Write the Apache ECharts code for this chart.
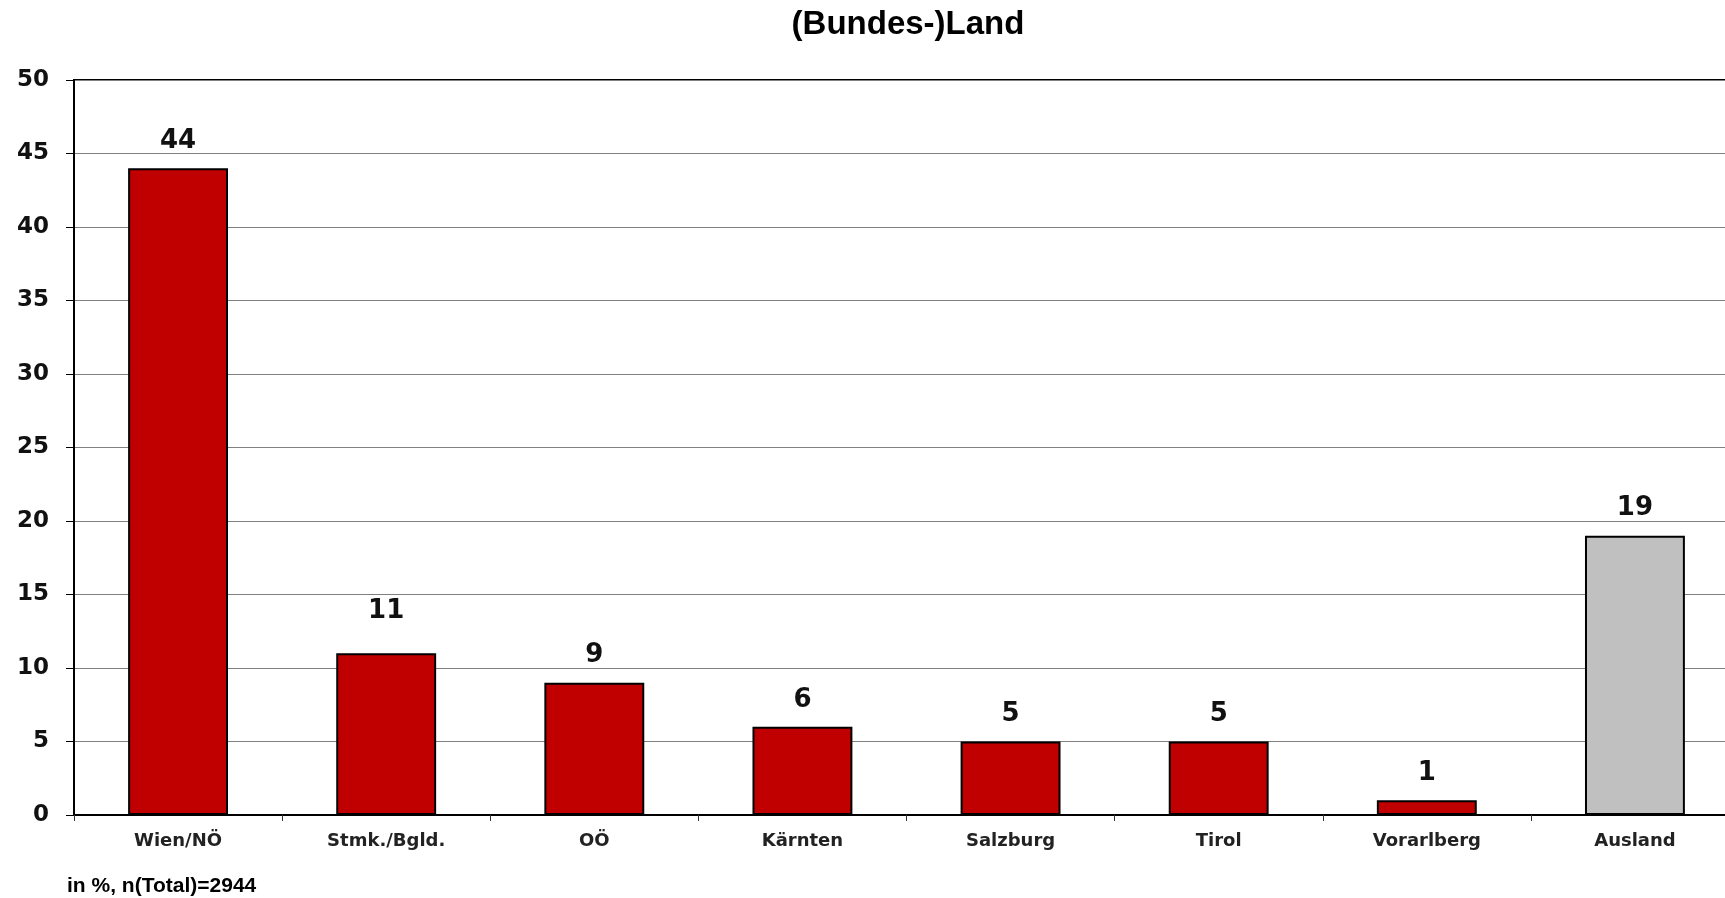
<!DOCTYPE html>
<html>
<head>
<meta charset="utf-8">
<script src="https://cdn.jsdelivr.net/npm/echarts@6/dist/echarts.min.js"></script>
<style>
  html, body { margin: 0; padding: 0; background: #fff; }
  #chart { width: 1725px; height: 898px; }
</style>
</head>
<body>
<div id="chart"></div>
<script>
// Kategorien und Werte (in %)
var categories = ['Wien/NÖ', 'Stmk./Bgld.', 'OÖ', 'Kärnten', 'Salzburg', 'Tirol', 'Vorarlberg', 'Ausland'];
var values = [44, 11, 9, 6, 5, 5, 1, 19];
var barColors = ['#C00000', '#C00000', '#C00000', '#C00000', '#C00000', '#C00000', '#C00000', '#C0C0C0'];

var verdana = '"DejaVu Sans", Verdana, sans-serif';
var arial = '"Liberation Sans", Arial, sans-serif';

var chart = echarts.init(document.getElementById('chart'));

var seriesData = values.map(function (v, i) {
  var item = { value: v, itemStyle: { color: barColors[i] } };
  // im Original sitzt die "11" etwas höher
  if (i === 1) item.label = { distance: 29 };
  return item;
});

var option = {
  backgroundColor: '#fff',
  animation: false,
  grid: {
    left: 74,
    top: 80,
    bottom: 83,
    right: -14,    // rechter Rand liegt ausserhalb des Bildes
    outerBoundsMode: 'none',
    containLabel: false,
    show: true,
    borderColor: '#000',
    borderWidth: 2
  },
  xAxis: {
    type: 'category',
    data: categories,
    axisLine: { lineStyle: { color: '#000', width: 2 } },
    axisTick: { show: true, length: 6, lineStyle: { color: '#333' } },
    axisLabel: {
      margin: 17,
      color: '#222',
      fontFamily: verdana,
      fontWeight: 'bold',
      fontSize: 18
    }
  },
  yAxis: {
    type: 'value',
    min: 0,
    max: 50,
    interval: 5,
    axisLine: { show: true, lineStyle: { color: '#000', width: 2 } },
    axisTick: { show: true, length: 8, lineStyle: { color: '#000' } },
    splitLine: { show: true, lineStyle: { color: '#808080', width: 1 } },
    axisLabel: {
      margin: 25,
      color: '#111',
      fontFamily: verdana,
      fontWeight: 'bold',
      fontSize: 23
    }
  },
  series: [{
    type: 'bar',
    data: seriesData,
    barWidth: '48%',
    itemStyle: { borderColor: '#000', borderWidth: 2 },
    label: {
      show: true,
      position: 'top',
      distance: 14,
      color: '#111',
      fontFamily: verdana,
      fontWeight: 'bold',
      fontSize: 26
    }
  }],
  graphic: [{
    type: 'text',
    x: 908,
    y: 25,
    style: {
      text: '(Bundes-)Land',
      font: 'bold 33px ' + arial,
      fill: '#000',
      align: 'center',
      verticalAlign: 'middle'
    }
  }, {
    type: 'text',
    x: 67,
    y: 886,
    style: {
      text: 'in %, n(Total)=2944',
      font: 'bold 21px ' + arial,
      fill: '#000',
      verticalAlign: 'middle'
    }
  }]
};

chart.setOption(option);
</script>
</body>
</html>
